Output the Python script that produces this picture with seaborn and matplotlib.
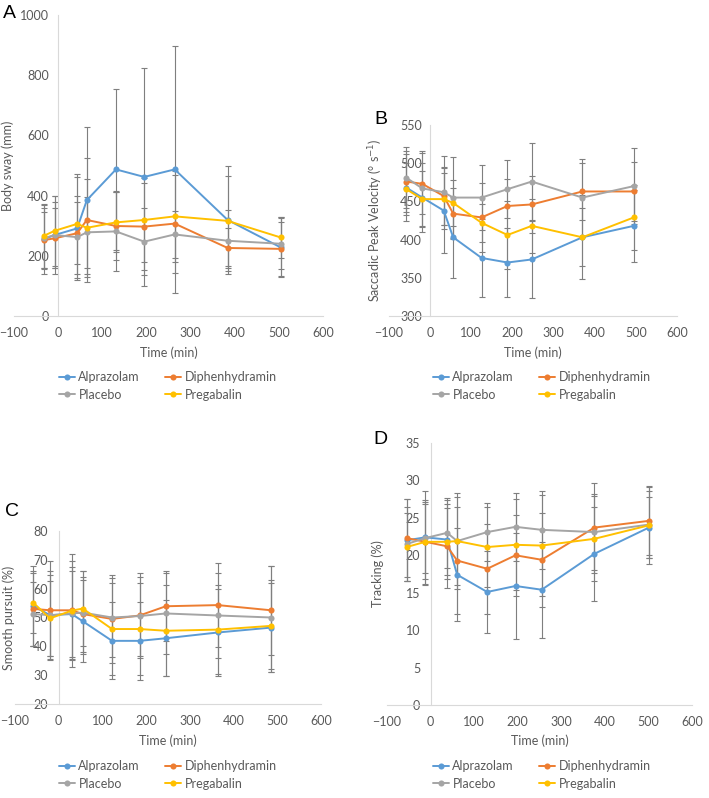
import matplotlib
matplotlib.use("Agg")
import numpy as np
import pandas as pd
import seaborn as sns
import matplotlib.pyplot as plt
from matplotlib.lines import Line2D

sns.set_style("white")
plt.rcParams["font.family"] = ["Lato", "DejaVu Sans"]
plt.rcParams["mathtext.fontset"] = "dejavusans"

drugs = ["Alprazolam", "Diphenhydramin", "Placebo", "Pregabalin"]
colors = ["#5B9BD5", "#ED7D31", "#A5A5A5", "#FFC000"]

# A - body sway (mm), rows in drug order
time_a = [-33, -8, 43, 65, 131, 195, 264, 384, 504]
sway = [
    [255, 269, 291, 385, 487, 462, 487, 319, 228],
    [252, 258, 275, 319, 299, 297, 307, 226, 223],
    [258, 269, 262, 278, 281, 247, 271, 250, 240],
    [266, 283, 306, 293, 311, 319, 331, 316, 261],
]
sway_sd = [
    [115, 130, 170, 244, 267, 361, 410, 179, 100],
    [95, 100, 103, 205, 112, 145, 163, 67, 90],
    [100, 110, 136, 119, 133, 111, 77, 102, 84],
    [105, 117, 165, 163, 100, 138, 150, 150, 67],
]

# B - saccadic peak velocity
time_b = [-58, -19, 33, 56, 125, 188, 247, 370, 495]
spv = [
    [468, 455, 438, 403, 376, 370, 374, 403, 418],
    [476, 473, 457, 434, 429, 444, 446, 463, 463],
    [481, 467, 462, 455, 455, 466, 476, 455, 470],
    [466, 453, 453, 448, 422, 406, 418, 403, 429],
]
spv_sd = [
    [44, 45, 56, 53, 51, 45, 50, 55, 47],
    [40, 40, 38, 33, 45, 35, 37, 37, 38],
    [40, 49, 48, 53, 43, 38, 50, 51, 50],
    [34, 37, 34, 30, 25, 45, 35, 38, 42],
]

# C - smooth pursuit (%)
time_c = [-58, -20, 30, 55, 122, 185, 245, 364, 486]
pursuit = [
    [54.0, 50.8, 51.2, 48.7, 41.9, 41.9, 42.8, 44.8, 46.5],
    [53.0, 52.5, 52.5, 51.2, 49.5, 50.7, 53.9, 54.3, 52.5],
    [51.2, 50.8, 51.4, 51.7, 50.0, 50.5, 51.4, 50.7, 50.0],
    [55.1, 49.7, 52.4, 53.1, 46.0, 46.0, 45.4, 45.8, 47.1],
]
pursuit_sd = [
    [14.0, 15.5, 15.0, 14.3, 13.4, 13.6, 13.1, 15.1, 15.5],
    [13.0, 17.0, 17.0, 13.0, 15.2, 14.9, 12.2, 14.5, 15.5],
    [11.0, 14.0, 16.0, 14.4, 13.6, 13.7, 14.2, 14.9, 17.7],
    [10.5, 13.0, 19.7, 13.0, 16.0, 16.0, 15.7, 15.4, 15.9],
]

# D - tracking (%)
time_d = [-55, -12, 38, 61, 130, 195, 255, 376, 501]
tracking = [
    [22.0, 22.4, 22.1, 17.4, 15.1, 15.9, 15.4, 20.2, 23.7],
    [22.3, 21.8, 21.2, 19.3, 18.2, 20.0, 19.4, 23.7, 24.6],
    [21.5, 22.3, 23.0, 21.9, 23.1, 23.8, 23.4, 23.1, 24.1],
    [21.1, 21.8, 21.8, 21.9, 21.1, 21.4, 21.3, 22.2, 24.0],
]
tracking_sd = [
    [5.5, 4.7, 5.3, 6.2, 5.5, 7.1, 6.4, 6.3, 4.1],
    [5.2, 5.6, 5.6, 7.1, 6.0, 5.4, 6.3, 6.0, 4.6],
    [4.9, 6.3, 4.7, 6.4, 3.9, 4.5, 5.2, 5.1, 4.5],
    [4.5, 5.0, 4.5, 5.9, 5.3, 6.1, 6.7, 5.7, 5.1],
]

W, H = 709, 798
fig = plt.figure(figsize=(W / 100, H / 100), dpi=100)

txt = "#595959"
axcol = "#D9D9D9"
fs = 9


def panel(box, times, means, sds, ylim, ystep, ylabel, letter, letter_xy,
          ylab_x, xlab_y, ypad):
    l, t, r, b = box
    ax = fig.add_axes([l / W, 1 - b / H, (r - l) / W, (b - t) / H])
    for i, d in enumerate(drugs):
        ax.errorbar(times, means[i], yerr=sds[i], fmt="none", ecolor="#7F7F7F",
                    elinewidth=0.8, capsize=2.3, capthick=0.8, zorder=2)
    rows = []
    for i, d in enumerate(drugs):
        for tt, v in zip(times, means[i]):
            rows.append({"Time": tt, "value": v, "drug": d})
    df = pd.DataFrame(rows)
    sns.lineplot(data=df, x="Time", y="value", hue="drug", hue_order=drugs,
                 palette=colors, marker="o", markersize=4.4, markeredgewidth=0,
                 linewidth=1.4, estimator=None, sort=False, legend=False,
                 ax=ax, zorder=3)
    ax.set_xlim(-100, 600)
    ax.set_xticks(range(-100, 601, 100))
    ax.set_ylim(*ylim)
    ax.set_yticks(np.arange(ylim[0], ylim[1] + 0.1, ystep))
    for s in ["top", "right"]:
        ax.spines[s].set_visible(False)
    ax.spines["left"].set_position(("data", 0))
    ax.spines["left"].set_color(axcol)
    ax.spines["bottom"].set_color(axcol)
    ax.spines["left"].set_linewidth(0.8)
    ax.spines["bottom"].set_linewidth(0.8)
    ax.tick_params(axis="x", length=0, pad=8, labelsize=fs, labelcolor=txt)
    ax.tick_params(axis="y", length=0, pad=ypad, labelsize=fs, labelcolor=txt)
    ax.set_xlabel("Time (min)", fontsize=fs, color=txt)
    ax.set_ylabel(ylabel, fontsize=fs, color=txt)
    ax.xaxis.set_label_coords(0.5, xlab_y)
    ax.yaxis.set_label_coords(ylab_x, 0.5)
    ax.set_facecolor("none")
    fig.text(letter_xy[0] / W, 1 - letter_xy[1] / H, letter, fontsize=14,
             family="Liberation Sans", ha="center", va="center", color="black")
    return ax


panel((14, 15, 323, 316), time_a, sway, sway_sd, (0, 1000), 200,
      "Body sway (mm)", "A", (9, 13), 0.0, -0.1, 6.5)
panel((389, 125, 677, 316), time_b, spv, spv_sd, (300, 550), 50,
      "Saccadic Peak Velocity (° s$^{-1}$)", "B", (381, 120), -0.015, -0.157, 6)
panel((15, 531, 321, 704), time_c, pursuit, pursuit_sd, (20, 80), 10,
      "Smooth pursuit (%)", "C", (12, 512), 0.0, -0.175, 8)
panel((387, 443, 692, 705), time_d, tracking, tracking_sd, (0, 35), 5,
      "Tracking (%)", "D", (380, 439), -0.01, -0.113, 7.5)

# column-wise fill: first column Alprazolam/Placebo, second Diphenhydramin/Pregabalin
order = [0, 2, 1, 3]
handles = [Line2D([0], [0], color=colors[i], lw=1.4, marker="o", markersize=4.4,
                  markeredgewidth=0) for i in order]
labels = [drugs[i] for i in order]
for lx, ly in [(59, 371), (433, 371), (59, 760), (433, 760)]:
    leg = fig.legend(handles, labels, loc="upper left",
                     bbox_to_anchor=(lx / W, 1 - ly / H), ncol=2, frameon=False,
                     fontsize=fs, handlelength=1.3, handletextpad=0.25,
                     columnspacing=2.0, labelspacing=0.45, borderpad=0,
                     borderaxespad=0)
    for t in leg.get_texts():
        t.set_color(txt)

fig.savefig("out.png", dpi=100)
